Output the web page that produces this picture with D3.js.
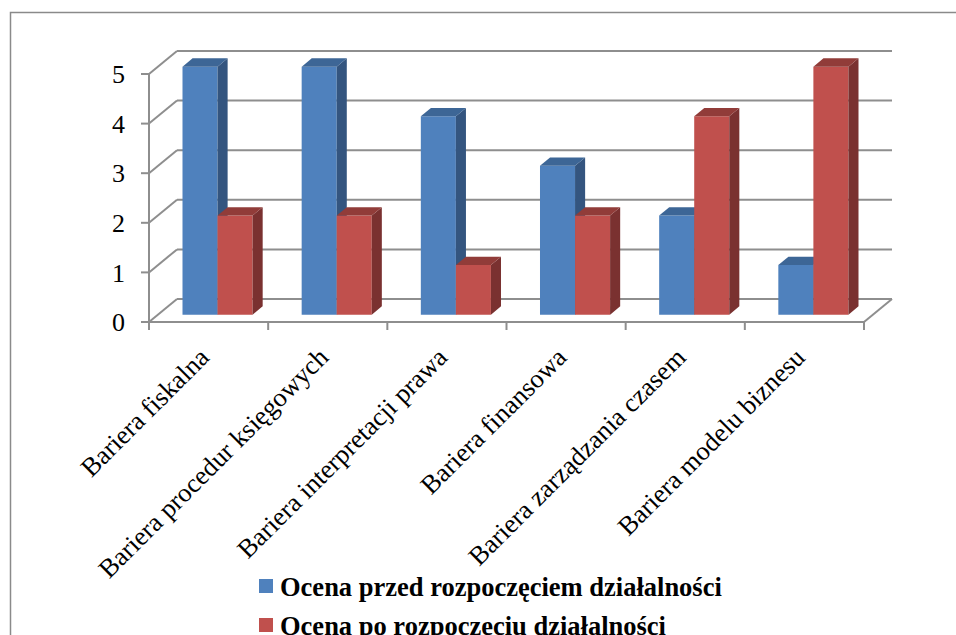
<!DOCTYPE html>
<html><head><meta charset="utf-8">
<script src="https://cdn.jsdelivr.net/npm/d3@7"></script>
<style>html,body{margin:0;padding:0;background:#fff;}svg{display:block;}
text{font-family:'Liberation Serif','Times New Roman',Tinos,serif;}</style>
</head><body>
<svg id="c" width="956" height="635"></svg>
<script>
const categories = ["Bariera fiskalna","Bariera procedur księgowych","Bariera interpretacji prawa","Bariera finansowa","Bariera zarządzania czasem","Bariera modelu biznesu"];
const seriesNames = ["Ocena przed rozpoczęciem działalności","Ocena po rozpoczęciu działalności"];
const before = [5,5,4,3,2,1];
const after = [2,2,1,2,4,5];
const yTicks = [0,1,2,3,4,5];

const svg = d3.select("#c");
const colors = [
  {front:"#4F81BD", side:"#34557F", top:"#3D6696"},
  {front:"#C0504D", side:"#7A3130", top:"#913C39"}
];
const grid = "#8e8e8e";
const DX = 28, DY = -23;
const x = d3.scaleBand().domain(categories).range([149, 864]).padding(0);
const y = d3.scaleLinear().domain([0,5]).range([322, 74]);
const sub = d3.scaleBand().domain(seriesNames).range([0, x.bandwidth()]).paddingInner(0).paddingOuter(0.7);
const P = (px, v, z) => [px + DX*z, y(v) + DY*z];

// outer border
svg.append("rect").attr("x",10.5).attr("y",12.5).attr("width",960).attr("height",640)
  .attr("fill","none").attr("stroke","#8a8a8a").attr("stroke-width",1.5);

const g = svg.append("g");
const line = (a,b,w=2)=> g.append("line").attr("x1",a[0]).attr("y1",a[1]).attr("x2",b[0]).attr("y2",b[1])
  .attr("stroke",grid).attr("stroke-width",w);

const x0 = x.range()[0], x1 = x.range()[1];
yTicks.forEach(v=>{
  line(P(x0,v,0), P(x0,v,1));
  line(P(x0,v,1), P(x1,v,1));
  line([x0-8, y(v)], [x0, y(v)]);
});
line(P(x0,0,0), P(x0,5,0));
line(P(x0,0,0), P(x1,0,0));
line(P(x1,0,0), P(x1,0,1));
categories.concat([null]).forEach((c,i)=>{
  const px = c ? x(c) : x1;
  line([px, y(0)], [px, y(0)+8]);
});

// y tick labels
svg.append("g").selectAll("text").data(yTicks).join("text")
  .attr("x",125).attr("y",d=>y(d)).attr("dy","0.35em").attr("text-anchor","end")
  .attr("font-size",26)
  .attr("fill","#000").text(d=>d);

// bars
const zf = 0.32, zb = 0.68;
const bars = svg.append("g");
categories.forEach((c,i)=>{
  [before[i], after[i]].forEach((v,s)=>{
    const col = colors[s];
    const xl = x(c) + sub(seriesNames[s]);
    const xr = xl + sub.bandwidth();
    const poly = pts => pts.map(p=>p.join(",")).join(" ");
    bars.append("polygon").attr("points", poly([P(xl,0,zf),P(xr,0,zf),P(xr,v,zf),P(xl,v,zf)])).attr("fill",col.front);
    bars.append("polygon").attr("points", poly([P(xr,0,zf),P(xr,0,zb),P(xr,v,zb),P(xr,v,zf)])).attr("fill",col.side);
    bars.append("polygon").attr("points", poly([P(xl,v,zf),P(xr,v,zf),P(xr,v,zb),P(xl,v,zb)])).attr("fill",col.top);
  });
});

// category labels
svg.append("g").selectAll("text").data(categories).join("text")
  .attr("transform", d=>`translate(${x(d)+x.bandwidth()/2+2},${359}) rotate(-45)`)
  .attr("text-anchor","end")
  .attr("font-size",26.5)
  .attr("fill","#000").text(d=>d);

// legend
const leg = svg.append("g");
seriesNames.forEach((n,i)=>{
  const yy = 579 + i*39;
  leg.append("rect").attr("x",259).attr("y",yy).attr("width",14).attr("height",14).attr("fill",colors[i].front);
  leg.append("text").attr("x",280).attr("y",yy+17)
    .attr("font-size",26.5).attr("font-weight","bold")
    .attr("fill","#000").text(n);
});
</script>
</body></html>
